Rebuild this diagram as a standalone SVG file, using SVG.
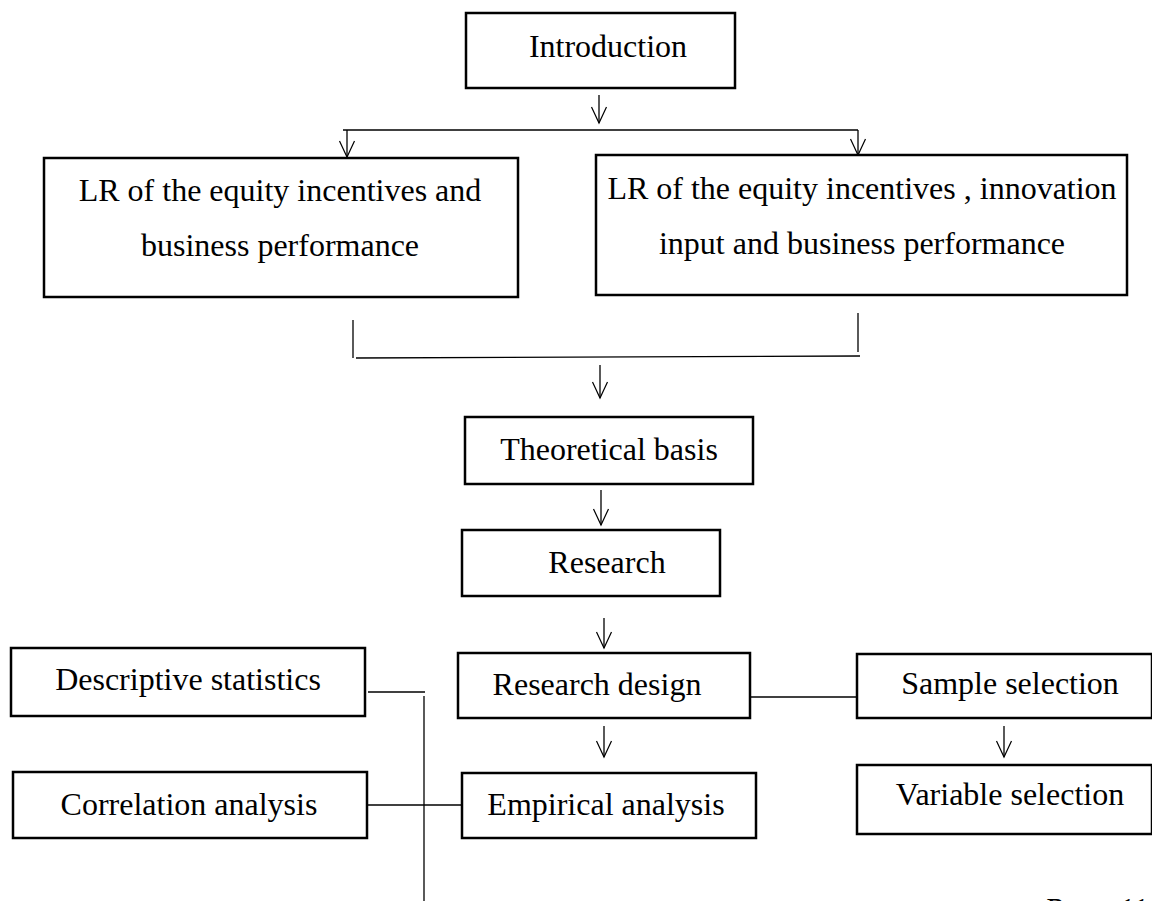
<svg xmlns="http://www.w3.org/2000/svg" width="1152" height="901" viewBox="0 0 1152 901">
<defs>
<marker id="v" markerUnits="userSpaceOnUse" markerWidth="20" markerHeight="20" viewBox="-18 -10 20 20" refX="0" refY="0" orient="auto">
<path d="M-16,-7.5 L0,0 L-16,7.5" fill="none" stroke="#000" stroke-width="1.2"/>
</marker>
</defs>
<style>
.box{fill:#fff;stroke:#000;stroke-width:2.5}
.t{font-family:"Liberation Serif","Times New Roman",serif;font-size:32px;fill:#000;text-anchor:middle}
.c{fill:none;stroke:#000;stroke-width:1.3}
.a{fill:none;stroke:#000;stroke-width:1.3;marker-end:url(#v)}
.pg{font-family:"Liberation Serif","Times New Roman",serif;font-size:32px;font-style:italic;fill:#000}
</style>
<rect width="1152" height="901" fill="#fff"/>
<g id="connectors">
<line class="a" x1="599" y1="95" x2="599" y2="123"/>
<line class="c" x1="343" y1="130" x2="858" y2="130"/>
<line class="a" x1="347" y1="130" x2="347" y2="157"/>
<line class="a" x1="858" y1="130" x2="858" y2="155"/>
<line class="c" x1="353" y1="320" x2="353" y2="358"/>
<line class="c" x1="858" y1="313" x2="858" y2="352"/>
<line class="c" x1="356" y1="358" x2="860" y2="356"/>
<line class="a" x1="600" y1="365" x2="600" y2="398"/>
<line class="a" x1="601" y1="490" x2="601" y2="525"/>
<line class="a" x1="604" y1="618" x2="604" y2="648"/>
<line class="a" x1="604" y1="726" x2="604" y2="757"/>
<line class="a" x1="1004" y1="726" x2="1004" y2="757"/>
<line class="c" x1="751" y1="697" x2="857" y2="697"/>
<line class="c" x1="368" y1="692" x2="425" y2="692"/>
<line class="c" x1="424" y1="696" x2="424" y2="901"/>
<line class="c" x1="368" y1="805" x2="462" y2="805"/>
</g>
<g id="introduction"><rect class="box" x="466" y="13" width="269" height="75"/><text class="t" x="608" y="57">Introduction</text></g>
<g id="lr-left"><rect class="box" x="44" y="158" width="474" height="139"/><text class="t" x="280" y="201">LR of the equity incentives and</text><text class="t" x="280" y="256">business performance</text></g>
<g id="lr-right"><rect class="box" x="596" y="155" width="531" height="140"/><text class="t" x="862" y="199">LR of the equity incentives , innovation</text><text class="t" x="862" y="254">input and business performance</text></g>
<g id="theoretical"><rect class="box" x="465" y="417" width="288" height="67"/><text class="t" x="609" y="460">Theoretical basis</text></g>
<g id="research"><rect class="box" x="462" y="530" width="258" height="66"/><text class="t" x="607" y="573">Research</text></g>
<g id="research-design"><rect class="box" x="458" y="653" width="292" height="65"/><text class="t" x="597" y="695">Research design</text></g>
<g id="empirical"><rect class="box" x="462" y="773" width="294" height="65"/><text class="t" x="606" y="815">Empirical analysis</text></g>
<g id="sample"><rect class="box" x="857" y="654" width="295" height="64"/><text class="t" x="1010" y="694">Sample selection</text></g>
<g id="variable"><rect class="box" x="857" y="765" width="295" height="69"/><text class="t" x="1010" y="805">Variable selection</text></g>
<g id="descriptive"><rect class="box" x="11" y="648" width="354" height="68"/><text class="t" x="188" y="690">Descriptive statistics</text></g>
<g id="correlation"><rect class="box" x="13" y="772" width="354" height="66"/><text class="t" x="189" y="815">Correlation analysis</text></g>
<text class="pg" x="1044" y="920">Page 111</text>
</svg>
